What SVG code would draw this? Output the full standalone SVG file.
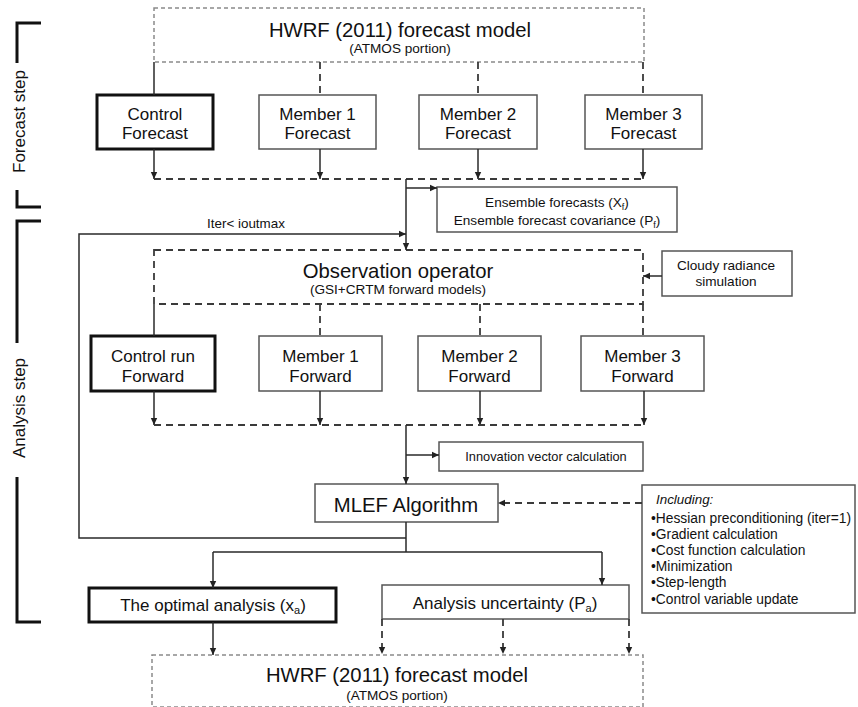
<svg xmlns="http://www.w3.org/2000/svg" width="858" height="707" viewBox="0 0 858 707">
<style>
text{font-family:"Liberation Sans",Arial,Helvetica,sans-serif;fill:#111}
.big{font-size:20.3px}
.lbl{font-size:17px}
.sm{font-size:13.6px}
.xs{font-size:13.4px}
.hw{fill:none;stroke:#8a8a8a;stroke-width:1.5;stroke-dasharray:4 3}
.dl{fill:none;stroke:#3a3a3a;stroke-width:1.8;stroke-dasharray:7 5}
.sl{fill:none;stroke:#2a2a2a;stroke-width:1.5}
.bx{fill:#fff;stroke:#555;stroke-width:1.5}
.bk{fill:#fff;stroke:#111;stroke-width:3}
.br{fill:none;stroke:#111;stroke-width:3}
</style>
<defs>
<marker id="ah" markerUnits="userSpaceOnUse" markerWidth="8" markerHeight="8" refX="7" refY="4" orient="auto">
<path d="M0,0.8 L7,4 L0,7.2 z" fill="#222"/>
</marker>
</defs>
<rect width="858" height="707" fill="#fff"/>

<g id="brackets">
<path class="br" d="M41,23 H17 V63"/>
<path class="br" d="M17,190 V207 H41"/>
<path class="br" d="M41,221 H17 V343"/>
<path class="br" d="M17,477 V622 H41"/>
<text class="lbl" text-anchor="middle" transform="translate(25,121.5) rotate(-90)">Forecast  step</text>
<text class="lbl" text-anchor="middle" transform="translate(25,408) rotate(-90)">Analysis  step</text>
</g>

<g id="hwrf-top">
<rect class="hw" x="154" y="8" width="490" height="54"/>
<text class="big" x="400" y="37" text-anchor="middle">HWRF (2011) forecast model</text>
<text class="sm" x="400" y="53" text-anchor="middle">(ATMOS portion)</text>
</g>

<g id="control-forecast">
<rect class="bk" x="97" y="95" width="116" height="54"/>
<text class="lbl" x="155" y="120" text-anchor="middle">Control</text>
<text class="lbl" x="155" y="139" text-anchor="middle">Forecast</text>
</g>
<g id="member1-forecast">
<rect class="bx" x="259" y="95" width="117" height="54"/>
<text class="lbl" x="317.5" y="120" text-anchor="middle">Member 1</text>
<text class="lbl" x="317.5" y="139" text-anchor="middle">Forecast</text>
</g>
<g id="member2-forecast">
<rect class="bx" x="419" y="95" width="118" height="54"/>
<text class="lbl" x="478" y="120" text-anchor="middle">Member 2</text>
<text class="lbl" x="478" y="139" text-anchor="middle">Forecast</text>
</g>
<g id="member3-forecast">
<rect class="bx" x="585" y="95" width="117" height="54"/>
<text class="lbl" x="643.5" y="120" text-anchor="middle">Member 3</text>
<text class="lbl" x="643.5" y="139" text-anchor="middle">Forecast</text>
</g>

<g id="ensemble">
<rect class="bx" x="437" y="187" width="240" height="45"/>
<text class="sm" x="557" y="207" text-anchor="middle">Ensemble forecasts (X<tspan font-size="9" dy="3">f</tspan><tspan dy="-3">)</tspan></text>
<text class="sm" x="557" y="225" text-anchor="middle">Ensemble forecast covariance (P<tspan font-size="9" dy="3">f</tspan><tspan dy="-3">)</tspan></text>
</g>

<g id="obs-operator">
<rect class="dl" x="154" y="250" width="489" height="54"/>
<text class="big" x="398" y="278" text-anchor="middle">Observation operator</text>
<text class="sm" x="398" y="294" text-anchor="middle">(GSI+CRTM forward models)</text>
</g>

<g id="cloudy">
<rect class="bx" x="662" y="251" width="130" height="45"/>
<text class="sm" x="726" y="270" text-anchor="middle">Cloudy radiance</text>
<text class="sm" x="726" y="286" text-anchor="middle">simulation</text>
</g>

<g id="control-forward">
<rect class="bk" x="91" y="336" width="124" height="55"/>
<text class="lbl" x="153" y="362" text-anchor="middle">Control run</text>
<text class="lbl" x="153" y="382" text-anchor="middle">Forward</text>
</g>
<g id="member1-forward">
<rect class="bx" x="259" y="336" width="123" height="55"/>
<text class="lbl" x="320.5" y="362" text-anchor="middle">Member 1</text>
<text class="lbl" x="320.5" y="382" text-anchor="middle">Forward</text>
</g>
<g id="member2-forward">
<rect class="bx" x="418" y="336" width="123" height="55"/>
<text class="lbl" x="479.5" y="362" text-anchor="middle">Member 2</text>
<text class="lbl" x="479.5" y="382" text-anchor="middle">Forward</text>
</g>
<g id="member3-forward">
<rect class="bx" x="581" y="336" width="123" height="55"/>
<text class="lbl" x="642.5" y="362" text-anchor="middle">Member 3</text>
<text class="lbl" x="642.5" y="382" text-anchor="middle">Forward</text>
</g>

<g id="innovation">
<rect class="bx" x="439" y="442" width="204" height="29"/>
<text x="546" y="461" text-anchor="middle" style="font-size:12.8px">Innovation vector calculation</text>
</g>

<g id="mlef">
<rect class="bx" x="315" y="484" width="183" height="38"/>
<text class="big" x="406" y="512" text-anchor="middle">MLEF Algorithm</text>
</g>

<g id="including">
<rect class="bx" x="642" y="485" width="213" height="128"/>
<text x="656" y="504" style="font-size:13.4px;font-style:italic">Including:</text>
<text x="651" y="523" style="font-size:13.8px">•Hessian preconditioning (iter=1)</text>
<text x="651" y="539" style="font-size:13.8px">•Gradient calculation</text>
<text x="651" y="555" style="font-size:13.8px">•Cost function calculation</text>
<text x="651" y="571" style="font-size:13.8px">•Minimization</text>
<text x="651" y="587" style="font-size:13.8px">•Step-length</text>
<text x="651" y="604" style="font-size:13.8px">•Control variable update</text>
</g>

<g id="optimal">
<rect class="bk" x="89" y="588" width="247" height="34"/>
<text class="lbl" x="213" y="611" text-anchor="middle">The optimal  analysis (x<tspan font-size="11" dy="3">a</tspan><tspan dy="-3">)</tspan></text>
</g>

<g id="uncertainty">
<rect class="bx" x="382" y="585" width="247" height="34"/>
<text class="lbl" x="505" y="609" text-anchor="middle">Analysis uncertainty (P<tspan font-size="11" dy="3">a</tspan><tspan dy="-3">)</tspan></text>
</g>

<g id="hwrf-bottom">
<rect class="hw" x="152" y="655" width="491" height="52"/>
<text class="big" x="397" y="682" text-anchor="middle">HWRF (2011) forecast model</text>
<text class="sm" x="397" y="700" text-anchor="middle">(ATMOS portion)</text>
</g>

<g id="connectors">
<path class="sl" d="M154,62 V95"/>
<path class="dl" d="M320,62 V95 M478,62 V95 M643,62 V95"/>
<path class="sl" d="M154,149 V179" marker-end="url(#ah)"/>
<path class="sl" d="M320,149 V179" marker-end="url(#ah)"/>
<path class="sl" d="M478,149 V179" marker-end="url(#ah)"/>
<path class="sl" d="M643,149 V179" marker-end="url(#ah)"/>
<path class="dl" d="M154,179 H643"/>
<path class="sl" d="M406,179 V250" marker-end="url(#ah)"/>
<path class="sl" d="M406,188 H437" marker-end="url(#ah)"/>
<path class="sl" d="M406,538 H79 V234 H406" marker-end="url(#ah)"/>
<text x="246" y="228" text-anchor="middle" class="xs">Iter&lt; ioutmax</text>
<path class="sl" d="M662,276 H643" marker-end="url(#ah)"/>
<path class="sl" d="M154,304 V336"/>
<path class="dl" d="M320,304 V336 M480,304 V336 M643,304 V336"/>
<path class="sl" d="M154,391 V425" marker-end="url(#ah)"/>
<path class="sl" d="M320,391 V425" marker-end="url(#ah)"/>
<path class="sl" d="M480,391 V425" marker-end="url(#ah)"/>
<path class="sl" d="M644,391 V425" marker-end="url(#ah)"/>
<path class="dl" d="M154,425 H644"/>
<path class="sl" d="M406,425 V484" marker-end="url(#ah)"/>
<path class="sl" d="M406,455 H439" marker-end="url(#ah)"/>
<path class="dl" d="M642,503 H498" marker-end="url(#ah)"/>
<path class="sl" d="M406,522 V552 M213,552 H602"/>
<path class="sl" d="M213,552 V588" marker-end="url(#ah)"/>
<path class="sl" d="M602,552 V585" marker-end="url(#ah)"/>
<path class="sl" d="M213,622 V655" marker-end="url(#ah)"/>
<path class="dl" d="M382,619 V654" marker-end="url(#ah)"/>
<path class="dl" d="M503,619 V654" marker-end="url(#ah)"/>
<path class="dl" d="M629,619 V654" marker-end="url(#ah)"/>
</g>
</svg>
